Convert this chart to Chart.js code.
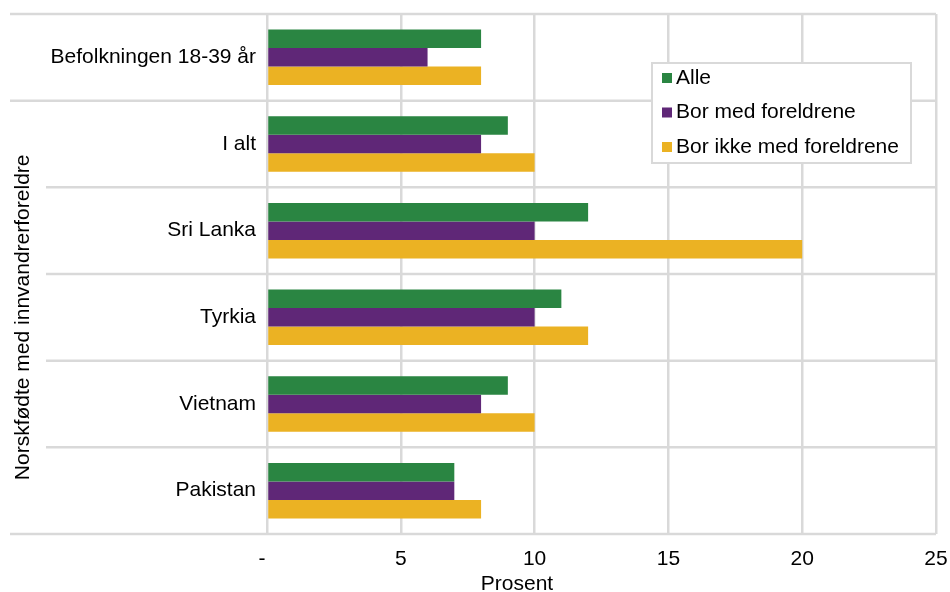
<!DOCTYPE html>
<html><head><meta charset="utf-8">
<script src="https://cdn.jsdelivr.net/npm/chart.js@4"></script>
<style>html,body{margin:0;padding:0;background:#fff}#wrap{width:950px;height:592px;position:relative}</style>
</head><body><div id="wrap"><canvas id="c" width="950" height="592"></canvas></div>
<script>
const categories = ["Befolkningen 18-39 år", "I alt", "Sri Lanka", "Tyrkia", "Vietnam", "Pakistan"];
const seriesNames = ["Alle", "Bor med foreldrene", "Bor ikke med foreldrene"];
const alle = [8, 9, 12, 11, 9, 7];
const borMed = [6, 8, 10, 10, 8, 7];
const borIkke = [8, 10, 20, 12, 10, 8];
const xTicks = [0, 5, 10, 15, 20, 25];
const xTickLabels = ["-", "5", "10", "15", "20", "25"];
const groupLabel = "Norskfødte med innvandrerforeldre";
const xTitle = "Prosent";
const colors = ["#2a8542", "#5f2777", "#ebb223"];
const FONT = "Liberation Sans, Arial, sans-serif";
const FS = "21px ";
const GRID = "#d9d9d9";

const overlay = {
  id: "overlay",
  afterDraw(chart) {
    const ctx = chart.ctx, a = chart.chartArea, x = chart.scales.x, y = chart.scales.y;
    ctx.save();
    ctx.strokeStyle = GRID; ctx.lineWidth = 2.5;
    const n = categories.length;
    const step = (a.bottom - a.top) / n;
    for (let i = 0; i <= n; i++) {
      const yy = a.top + i * step;
      const x0 = (i === 0 || i === 1 || i === n) ? 10 : 46;
      ctx.beginPath(); ctx.moveTo(x0, yy); ctx.lineTo(a.right, yy); ctx.stroke();
    }
    ctx.fillStyle = "#000";
    ctx.font = FS + FONT;
    ctx.textAlign = "right"; ctx.textBaseline = "middle";
    categories.forEach((c, i) => ctx.fillText(c, a.left - 11, y.getPixelForValue(i)));
    ctx.textAlign = "center"; ctx.textBaseline = "middle";
    xTicks.forEach((v, i) => ctx.fillText(xTickLabels[i], x.getPixelForValue(v) - (i === 0 ? 5 : 0), 559));
    ctx.fillText(xTitle, 517, 584);
    const gy = (y.getPixelForValue(1) + y.getPixelForValue(n - 1)) / 2;
    ctx.translate(23, gy); ctx.rotate(-Math.PI / 2);
    ctx.fillText(groupLabel, 0, 0);
    ctx.restore();
    // legend
    ctx.save();
    ctx.fillStyle = "#fff"; ctx.fillRect(652, 63, 259, 100);
    ctx.strokeStyle = GRID; ctx.lineWidth = 2;
    ctx.strokeRect(652, 63, 259, 100);
    ctx.font = FS + FONT; ctx.textAlign = "left"; ctx.textBaseline = "middle";
    seriesNames.forEach((s, i) => {
      const yy = 78 + i * 34.5;
      ctx.fillStyle = colors[i]; ctx.fillRect(662, yy - 5, 10, 10);
      ctx.fillStyle = "#000"; ctx.fillText(s, 676, yy);
    });
    ctx.restore();
  }
};

new Chart(document.getElementById("c"), {
  type: "bar",
  data: {
    labels: categories,
    datasets: [alle, borMed, borIkke].map((d, i) => ({
      label: seriesNames[i], data: d, backgroundColor: colors[i], borderWidth: 0,
      categoryPercentage: 0.64, barPercentage: 1
    }))
  },
  options: {
    indexAxis: "y", responsive: false, animation: false,
    layout: { padding: { left: 267, right: 14, top: 14, bottom: 58 } },
    plugins: { legend: { display: false }, tooltip: { enabled: false } },
    scales: {
      x: {
        min: 0, max: 25,
        ticks: { display: false, stepSize: 5 },
        grid: { color: GRID, lineWidth: 2.5, drawTicks: false },
        border: { display: false },
        afterFit(s) { s.height = 0; }
      },
      y: { display: false }
    }
  },
  plugins: [overlay]
});
</script></body></html>
